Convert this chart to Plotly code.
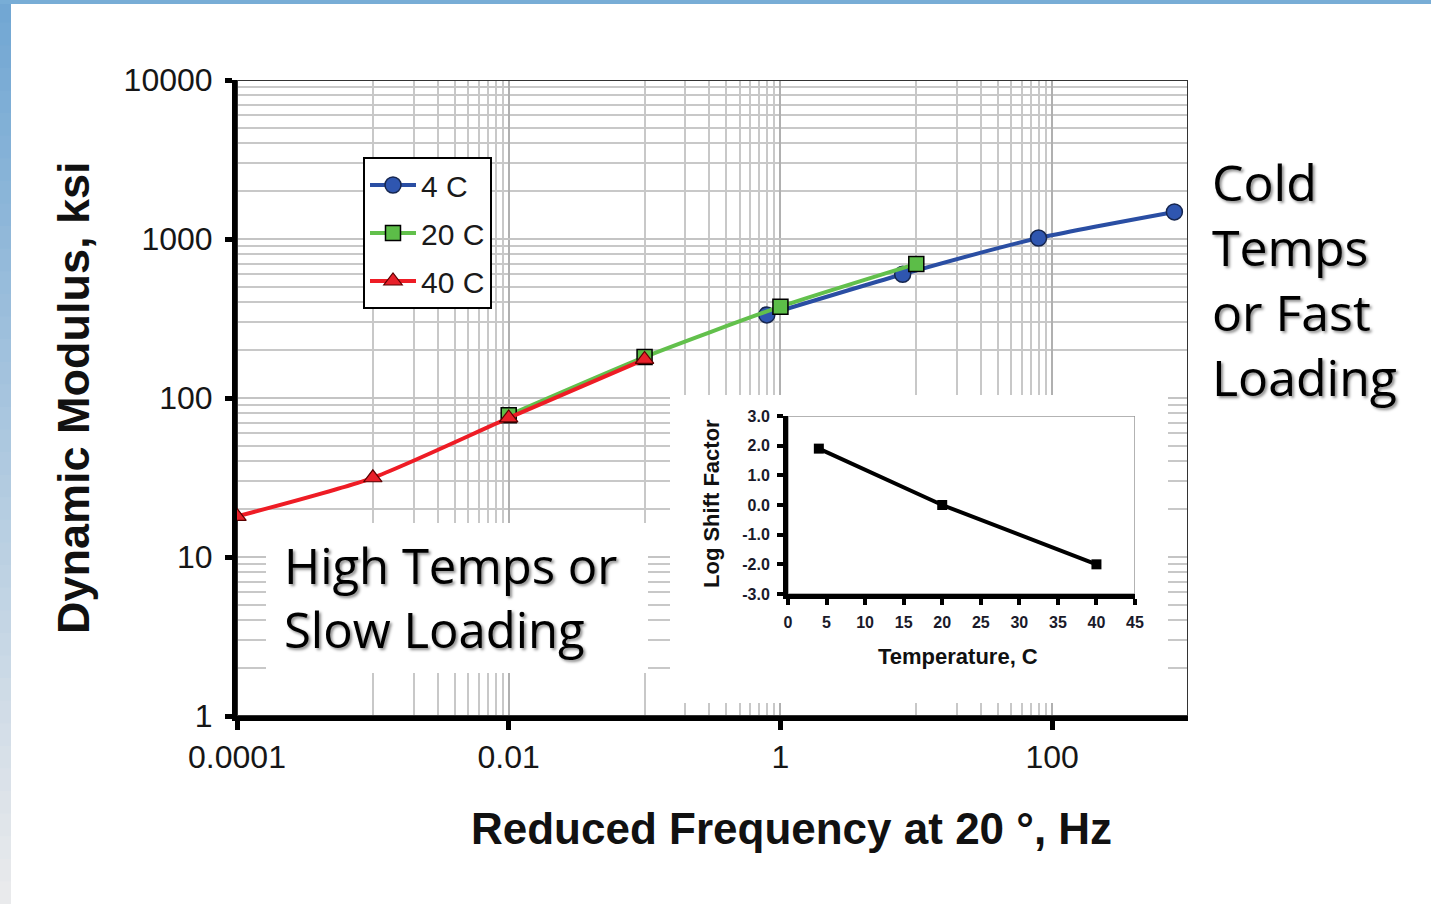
import plotly.graph_objects as go

# ---------------- data ----------------
freq_4c = [0.794, 7.94, 79.4, 794]
mod_4c = [333, 600, 1014, 1480]

freq_20c = [0.01, 0.1, 1, 10]
mod_20c = [78, 181, 375, 697]

freq_40c = [0.0001, 0.001, 0.01, 0.1]
mod_40c = [18, 31.5, 75, 175]

inset_temp = [4, 20, 40]
inset_shift = [1.9, 0.0, -2.0]

x_tickvals = [1e-4, 1e-2, 1, 100]
x_ticktext = ["0.0001", "0.01", "1", "100"]
y_tickvals = [1, 10, 100, 1000, 10000]
y_ticktext = ["1", "10", "100", "1000", "10000"]
inset_y_tickvals = [-3, -2, -1, 0, 1, 2, 3]
inset_y_ticktext = ["-3.0", "-2.0", "-1.0", "0.0", "1.0", "2.0", "3.0"]

# ---------------- geometry helpers ----------------
W, H = 1431, 904
L, R, T, B = 237, 1188, 80, 716  # plot area in pixels
PW, PH = R - L, B - T
XLOG0, XLOG1 = -4, 3
YLOG0, YLOG1 = 0, 4


def px(xp):
    return (xp - L) / PW


def py(yp):
    return (B - yp) / PH


def xdata(xp):
    return 10 ** (XLOG0 + (XLOG1 - XLOG0) * px(xp))


def ydata(yp):
    return 10 ** (YLOG0 + (YLOG1 - YLOG0) * py(yp))


ARIAL = "Liberation Sans, Arial, sans-serif"
TAHOMA = "Open Sans, Noto Sans, sans-serif"

fig = go.Figure()

fig.add_trace(go.Scatter(
    x=freq_4c, y=mod_4c, name="4 C", mode="lines+markers",
    line=dict(color="#2a4ea3", width=4, shape="spline", smoothing=0.6),
    marker=dict(symbol="circle", size=16, color="#2f56b0", line=dict(color="#16264f", width=1.5)),
    legendgroup="a",
))
fig.add_trace(go.Scatter(
    x=freq_20c, y=mod_20c, name="20 C", mode="lines+markers",
    line=dict(color="#62c04c", width=4, shape="spline", smoothing=0.6),
    marker=dict(symbol="square", size=15, color="#5cbd48", line=dict(color="#000000", width=1.5)),
    legendgroup="b",
))
fig.add_trace(go.Scatter(
    x=freq_40c, y=mod_40c, name="40 C", mode="lines+markers",
    line=dict(color="#ee1c25", width=4, shape="spline", smoothing=0.6),
    marker=dict(symbol="triangle-up", size=16, color="#e8202a", line=dict(color="#5a0000", width=1.2)),
    legendgroup="c",
))
fig.add_trace(go.Scatter(
    x=inset_temp, y=inset_shift, mode="lines+markers", showlegend=False,
    line=dict(color="black", width=4),
    marker=dict(symbol="square", size=10, color="black"),
    xaxis="x2", yaxis="y2",
))

# minor grid positions (axis configuration)
minor_x = [k * 10.0 ** e for e in (-3, -1, 1) for k in range(1, 10)]
minor_y = [k * 10.0 ** e for e in range(0, 4) for k in range(2, 10)]

fig.update_layout(
    width=W, height=H, autosize=False,
    margin=dict(l=L, r=W - R, t=T, b=H - B, pad=0),
    paper_bgcolor="white", plot_bgcolor="white",
    showlegend=True,
    legend=dict(
        x=px(363), y=py(157), xanchor="left", yanchor="top",
        bgcolor="white", bordercolor="black", borderwidth=2,
        font=dict(family=ARIAL, size=30, color="#1a1a1a"),
        tracegroupgap=6, itemwidth=46,
    ),
    xaxis=dict(
        type="log", range=[XLOG0, XLOG1], domain=[0, 1],
        tickmode="array", tickvals=x_tickvals, ticktext=x_ticktext,
        showgrid=True, gridcolor="#b0b0b0", gridwidth=1.5,
        minor=dict(tickmode="array", tickvals=minor_x, showgrid=True,
                   gridcolor="#c8c8c8", gridwidth=1.5, ticks=""),
        showline=True, linecolor="black", linewidth=5,
        ticks="outside", ticklen=9, tickwidth=5, tickcolor="black",
        tickfont=dict(family=ARIAL, size=32, color="#161616"),
        ticklabelstandoff=0,
        zeroline=False,
    ),
    yaxis=dict(
        type="log", range=[YLOG0, YLOG1], domain=[0, 1],
        tickmode="array", tickvals=y_tickvals, ticktext=y_ticktext,
        showgrid=True, gridcolor="#c4c4c4", gridwidth=1.5,
        minor=dict(tickmode="array", tickvals=minor_y, showgrid=True,
                   gridcolor="#c8c8c8", gridwidth=1.5, ticks=""),
        showline=True, linecolor="black", linewidth=5,
        ticks="outside", ticklen=7, tickwidth=5, tickcolor="black",
        tickfont=dict(family=ARIAL, size=32, color="#161616"),
        ticklabelstandoff=6,
        zeroline=False,
    ),
    xaxis2=dict(
        domain=[px(788), px(1135)], anchor="y2", range=[0, 45],
        tickmode="linear", tick0=0, dtick=5,
        showgrid=False, zeroline=False,
        showline=True, linecolor="black", linewidth=5,
        ticks="outside", ticklen=6, tickwidth=4, tickcolor="black",
        tickfont=dict(family=ARIAL, size=16, color="#1a1a2a", weight="bold"),
        ticklabelstandoff=4,
    ),
    yaxis2=dict(
        domain=[py(594), py(416)], anchor="x2", range=[-3, 3],
        tickmode="array", tickvals=inset_y_tickvals, ticktext=inset_y_ticktext,
        showgrid=False, zeroline=False,
        showline=True, linecolor="black", linewidth=5,
        ticks="outside", ticklen=6, tickwidth=4, tickcolor="black",
        tickfont=dict(family=ARIAL, size=16, color="#1a1a2a", weight="bold"),
        ticklabelstandoff=4,
    ),
)

shapes = []
# decorative blue border (left gradient strip + top strip)
c_top = (114, 167, 211)
c_bot = (233, 234, 236)
n = 40
for i in range(n):
    t = i / (n - 1)
    col = tuple(round(c_top[j] + (c_bot[j] - c_top[j]) * t) for j in range(3))
    y0 = H * i / n
    y1 = H * (i + 1) / n + 1
    shapes.append(dict(type="rect", xref="paper", yref="paper",
                       x0=px(0), x1=px(11), y0=py(y1), y1=py(y0),
                       line=dict(width=0), fillcolor="rgb(%d,%d,%d)" % col, layer="below"))
shapes.append(dict(type="rect", xref="paper", yref="paper",
                   x0=px(0), x1=px(W), y0=py(4), y1=py(0),
                   line=dict(width=0), fillcolor="#78add6", layer="below"))
# white panels hiding the grid (between grid and traces)
shapes.append(dict(type="rect", xref="x", yref="y",
                   x0=xdata(266), x1=xdata(648), y0=ydata(673), y1=ydata(523),
                   line=dict(width=0), fillcolor="white", layer="between"))
shapes.append(dict(type="rect", xref="x", yref="y",
                   x0=xdata(670), x1=xdata(1168), y0=ydata(703), y1=ydata(395),
                   line=dict(width=0), fillcolor="white", layer="between"))
# thin frame top/right of main plot
shapes.append(dict(type="rect", xref="x", yref="y",
                   x0=10 ** XLOG0, x1=10 ** XLOG1, y0=10 ** YLOG0, y1=10 ** YLOG1,
                   line=dict(width=2, color="#333333"), layer="between"))
# thin frame of the inset
shapes.append(dict(type="rect", xref="x2", yref="y2",
                   x0=0, x1=45, y0=-3, y1=3,
                   line=dict(width=1.5, color="#9a9a9a"), layer="between"))
fig.update_layout(shapes=shapes)

shadow = "2px 2px 3px rgba(0,0,0,0.45)"
ann = []
ann.append(dict(text="<b>Dynamic Modulus, ksi</b>", xref="paper", yref="paper",
                x=px(73), y=py(398), xanchor="center", yanchor="middle", textangle=-90,
                showarrow=False, font=dict(family=ARIAL, size=45, color="#111111")))
ann.append(dict(text="<b>Reduced Frequency at 20 °, Hz</b>", xref="paper", yref="paper",
                x=px(791), y=py(828), xanchor="center", yanchor="middle",
                showarrow=False, font=dict(family=ARIAL, size=44, color="#111111")))
ann.append(dict(text="<b>Log Shift Factor</b>", xref="paper", yref="paper",
                x=px(711), y=py(504), xanchor="center", yanchor="middle", textangle=-90,
                showarrow=False, font=dict(family=ARIAL, size=22, color="#111111")))
ann.append(dict(text="<b>Temperature, C</b>", xref="paper", yref="paper",
                x=px(958), y=py(656), xanchor="center", yanchor="middle",
                showarrow=False, font=dict(family=ARIAL, size=22, color="#111111")))

# "Cold Temps or Fast Loading" block (4 lines, 65 px line pitch at size 50)
ann.append(dict(text="Cold<br>Temps<br>or Fast<br>Loading", xref="paper", yref="paper",
                x=px(1210), y=py(279.5), xanchor="left", yanchor="middle", align="left",
                showarrow=False,
                font=dict(family=TAHOMA, size=50, color="black", shadow=shadow)))
ann.append(dict(text="High Temps or<br>Slow Loading", xref="paper", yref="paper",
                x=px(282), y=py(597), xanchor="left", yanchor="middle", align="left",
                showarrow=False,
                font=dict(family=TAHOMA, size=49, color="black", shadow=shadow)))
fig.update_layout(annotations=ann)

fig.write_html("out.html", config={"displayModeBar": False},
               post_script="document.body.style.margin='0px';")
